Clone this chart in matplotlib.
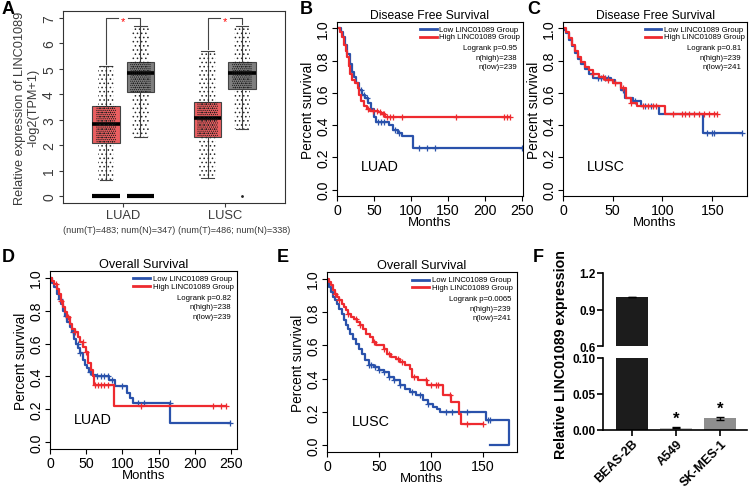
import numpy as np
import matplotlib
matplotlib.use('Agg')
import matplotlib.pyplot as plt
from matplotlib.lines import Line2D
from matplotlib.patches import Rectangle

plt.rcParams['font.family'] = ['Liberation Sans', 'DejaVu Sans']
plt.rcParams['hatch.linewidth'] = 0.6

# ---------------- data ----------------
# panel A: LINC01089 expression, tumor (T) vs normal (N)
cancers = ['LUAD', 'LUSC']
sample_sizes = ['(num(T)=483; num(N)=347)', '(num(T)=486; num(N)=338)']
# q1, median, q3, whisker low, whisker high
tumor_stats = [[2.10, 2.82, 3.52, 0.62, 5.10], [2.32, 3.05, 3.68, 0.70, 5.68]]
normal_stats = [[4.10, 4.82, 5.28, 2.32, 6.68], [4.20, 4.82, 5.28, 2.62, 6.70]]
zero_cluster_tumor = [True, False]
zero_cluster_normal = [True, False]

# panel B: LUAD disease free survival
b_low_t = [0, 5, 8, 11, 14, 17, 20, 23, 26, 30, 34, 38, 42, 46, 50, 53, 70, 76, 82, 88, 103]
b_low_s = [1.0, 0.98, 0.95, 0.9, 0.84, 0.78, 0.73, 0.7, 0.66, 0.62, 0.59, 0.57, 0.54, 0.5, 0.45, 0.42, 0.4, 0.37, 0.35, 0.33, 0.26]
b_low_cens = [33, 36, 40, 56, 60, 64, 78, 84, 110, 122, 132, 250]
b_high_t = [0, 4, 7, 10, 12, 14, 16, 18, 20, 24, 28, 30, 33, 36, 40, 45, 55, 60, 65]
b_high_s = [1.0, 0.98, 0.95, 0.9, 0.86, 0.82, 0.77, 0.72, 0.68, 0.66, 0.63, 0.59, 0.55, 0.52, 0.5, 0.49, 0.48, 0.47, 0.45]
b_high_cens = [42, 48, 54, 58, 62, 64, 68, 72, 75, 88, 160, 225, 230, 234]
b_stats = ['Logrank p=0.95', 'n(high)=238', 'n(low)=239']

# panel C: LUSC disease free survival
c_low_t = [0, 3, 6, 9, 12, 15, 18, 22, 26, 30, 40, 48, 52, 58, 62, 70, 78, 97, 141]
c_low_s = [0.99, 0.97, 0.93, 0.89, 0.85, 0.81, 0.78, 0.75, 0.72, 0.69, 0.69, 0.68, 0.66, 0.62, 0.57, 0.55, 0.52, 0.47, 0.35]
c_low_cens = [35, 38, 42, 45, 60, 72, 82, 88, 145, 150, 152, 180]
c_high_t = [0, 3, 6, 9, 12, 15, 18, 22, 26, 30, 36, 42, 50, 58, 63, 68, 74, 103]
c_high_s = [1.0, 0.98, 0.94, 0.9, 0.86, 0.82, 0.79, 0.76, 0.74, 0.72, 0.7, 0.68, 0.66, 0.63, 0.57, 0.54, 0.52, 0.47]
c_high_cens = [30, 40, 45, 52, 60, 68, 80, 85, 90, 94, 111, 120, 123, 127, 132, 137, 142, 147, 152, 155]
c_stats = ['Logrank p=0.81', 'n(high)=239', 'n(low)=241']

# panel D: LUAD overall survival
d_low_t = [0, 3, 6, 9, 12, 15, 18, 21, 24, 27, 30, 33, 36, 39, 42, 45, 48, 51, 54, 58, 64, 82, 89, 106, 110, 114, 166]
d_low_s = [1.0, 0.97, 0.94, 0.9, 0.87, 0.84, 0.8, 0.77, 0.73, 0.7, 0.67, 0.63, 0.6, 0.57, 0.54, 0.5, 0.47, 0.45, 0.43, 0.41, 0.4, 0.38, 0.34, 0.3, 0.27, 0.24, 0.12]
d_low_cens = [14, 22, 32, 38, 42, 55, 65, 70, 75, 80, 85, 100, 122, 130, 165, 248]
d_high_t = [0, 3, 6, 9, 12, 15, 18, 21, 24, 27, 30, 34, 38, 42, 46, 50, 53, 56, 59, 61, 88]
d_high_s = [1.0, 0.98, 0.96, 0.93, 0.9, 0.86, 0.82, 0.79, 0.76, 0.72, 0.69, 0.67, 0.64, 0.61, 0.58, 0.55, 0.48, 0.44, 0.4, 0.35, 0.22]
d_high_cens = [8, 15, 25, 35, 45, 50, 62, 66, 70, 75, 80, 125, 225, 236, 243]
d_stats = ['Logrank p=0.82', 'n(high)=238', 'n(low)=239']

# panel E: LUSC overall survival
e_low_t = [0, 2, 4, 6, 8, 10, 12, 14, 16, 18, 20, 22, 25, 28, 31, 34, 37, 40, 45, 50, 55, 60, 65, 70, 75, 80, 86, 92, 97, 102, 106, 109, 153, 175]
e_low_s = [0.98, 0.95, 0.92, 0.89, 0.87, 0.85, 0.82, 0.79, 0.75, 0.72, 0.7, 0.67, 0.64, 0.61, 0.58, 0.55, 0.51, 0.48, 0.47, 0.45, 0.44, 0.41, 0.39, 0.36, 0.34, 0.32, 0.3, 0.27, 0.25, 0.23, 0.22, 0.2, 0.15, 0.0]
e_low_cens = [40, 42, 46, 50, 55, 60, 65, 70, 82, 90, 97, 115, 120, 135, 155, 157]
e_high_t = [0, 2, 4, 6, 8, 10, 12, 14, 16, 18, 20, 23, 26, 29, 32, 35, 38, 41, 44, 47, 55, 58, 62, 66, 70, 75, 80, 82, 88, 96, 112, 119, 127, 129]
e_high_s = [1.0, 0.98, 0.96, 0.93, 0.91, 0.89, 0.87, 0.85, 0.83, 0.81, 0.79, 0.77, 0.76, 0.74, 0.72, 0.7, 0.67, 0.65, 0.62, 0.6, 0.58, 0.55, 0.53, 0.52, 0.5, 0.48, 0.46, 0.41, 0.39, 0.36, 0.3, 0.26, 0.19, 0.13]
e_high_cens = [8, 12, 20, 28, 32, 45, 55, 60, 68, 72, 84, 95, 100, 105, 107, 118, 135, 150]
e_stats = ['Logrank p=0.0065', 'n(high)=239', 'n(low)=241']

# panel F: qPCR
cell_lines = ['BEAS-2B', 'A549', 'SK-MES-1']
rel_expr = [1.0, 0.003, 0.016]
rel_err = [0.0, 0.0008, 0.0015]
bar_colors = ['#1c1c1c', '#c4c4c4', '#8e8e8e']
significant = [False, True, True]

BLUE = '#2a52ab'
RED = '#ee2a2f'

fig = plt.figure(figsize=(7.53, 4.89), dpi=100)


def fpos(left, top, right, bottom):
    W, H = 753.0, 489.0
    return [left / W, 1 - bottom / H, (right - left) / W, (bottom - top) / H]


def panel_label(x, y, s):
    fig.text(x / 753.0, 1 - y / 489.0, s, fontsize=13, fontweight='bold',
             ha='left', va='top')


# ---------------- panel A ----------------
axA = fig.add_axes(fpos(63, 12, 285, 204))
off = 0.17
bw = 0.27
txt_grey = '#3a3a3a'
for i in range(len(cancers)):
    for st, dx, col, zc in [(tumor_stats[i], -off, '#ea5f61', zero_cluster_tumor[i]),
                            (normal_stats[i], off, '#7f7f7f', zero_cluster_normal[i])]:
        q1, med, q3, lo, hi = st
        pos = i + 1 + dx
        axA.bxp([dict(q1=q1, med=med, q3=q3, whislo=lo, whishi=hi, fliers=[])],
                positions=[pos], widths=bw, patch_artist=True, showfliers=False,
                boxprops=dict(facecolor=col, edgecolor='#444444', linewidth=0.8),
                medianprops=dict(color='black', linewidth=2.6),
                whiskerprops=dict(color='#444444', linewidth=0.8),
                capprops=dict(color='#444444', linewidth=0.8), capwidths=0.12)
        # jittered sample cloud drawn as a stipple texture
        axA.add_patch(Rectangle((pos - 0.08, lo), 0.16, hi - lo, facecolor='none',
                                edgecolor='#2a2a2a', linewidth=0, hatch='....', zorder=4))
        axA.add_patch(Rectangle((pos - 0.1, q1), 0.2, q3 - q1, facecolor='none',
                                edgecolor='#1a1a1a', linewidth=0, hatch='........', zorder=4))
        if zc:
            axA.hlines(0, pos - bw / 2, pos + bw / 2, color='black', linewidth=3, zorder=5)
    # significance bracket
    lft = i + 1 - off
    rgt = i + 1 + off
    top = 7.0
    axA.plot([lft, lft, i + 1 - 0.05], [tumor_stats[i][4] + 0.1, top, top], color='#444444', lw=0.8)
    axA.plot([i + 1 + 0.05, rgt, rgt], [top, top, normal_stats[i][4] + 0.05], color='#444444', lw=0.8)
    axA.text(i + 1, top - 0.12, '*', color='red', fontsize=8, ha='center', va='center')
axA.scatter([2 + off], [0], s=1, color='#222222')
axA.set_xlim(0.41, 2.59)
axA.set_ylim(-0.27, 7.27)
axA.set_yticks(range(8))
axA.set_yticklabels([str(v) for v in range(8)], rotation=90, va='center', fontsize=10, color=txt_grey)
axA.set_xticks([1, 2])
axA.set_xticklabels(['', ''])
size_label_x = [0.41, 1.537]
for i in range(len(cancers)):
    axA.text(i + 1, -0.5, cancers[i], ha='center', va='top', fontsize=9.3, color=txt_grey)
    axA.text(size_label_x[i], -1.15, sample_sizes[i], ha='left', va='top', fontsize=6.6,
             color=txt_grey, clip_on=False)
axA.set_ylabel('Relative expression of LINC01089\n-log2(TPM+1)', fontsize=9.2, color=txt_grey,
               linespacing=1.1, labelpad=2)
axA.tick_params(length=3, width=0.8, pad=2, colors=txt_grey)
for s in axA.spines.values():
    s.set_linewidth(0.8)
    s.set_color('#333333')


# ---------------- KM panels ----------------
def km_panel(rect, title, low_t, low_s, low_c, high_t, high_s, high_c, stats, tag,
             xmax, xticks, fs_title=8.7):
    ax = fig.add_axes(rect)
    for t, s, c, col in [(low_t, low_s, low_c, BLUE), (high_t, high_s, high_c, RED)]:
        tt = list(t) + [max(c)]
        ss = list(s) + [s[-1]]
        ax.step(tt, ss, where='post', color=col, linewidth=1.6)
        idx = np.searchsorted(t, c, side='right') - 1
        ax.plot(c, np.array(s)[idx], linestyle='none', marker='+', color=col,
                markersize=5, markeredgewidth=0.9)
    ax.set_xlim(0, xmax)
    ax.set_ylim(-0.04, 1.04)
    ax.set_xticks(xticks)
    ax.set_yticks([0, 0.2, 0.4, 0.6, 0.8, 1.0])
    ax.set_yticklabels(['0.0', '0.2', '0.4', '0.6', '0.8', '1.0'], rotation=90, va='center')
    ax.tick_params(labelsize=10.2, length=3.5, width=0.8, pad=1.5)
    ax.set_xlabel('Months', fontsize=9.5, labelpad=-1)
    ax.set_ylabel('Percent survival', fontsize=9.8, labelpad=1)
    ax.set_title(title, fontsize=fs_title, pad=3)
    # legend
    for k, (col, lab) in enumerate([(BLUE, 'Low LINC01089 Group'), (RED, 'High LINC01089 Group')]):
        yy = 0.958 - 0.043 * k
        ax.add_line(Line2D([0.445, 0.535], [yy, yy], color=col, lw=2, transform=ax.transAxes))
        ax.text(0.55, yy, lab, transform=ax.transAxes, ha='left', va='center', fontsize=5.6)
    for k, line in enumerate(stats):
        ax.text(0.968, 0.851 - 0.053 * k, line, transform=ax.transAxes, ha='right',
                va='center', fontsize=5.6)
    ax.text(0.13, 0.17, tag, transform=ax.transAxes, fontsize=10.3, va='center')
    for s in ax.spines.values():
        s.set_linewidth(0.8)
    return ax


km_panel(fpos(337, 23, 523, 197), 'Disease Free Survival', b_low_t, b_low_s, b_low_cens,
         b_high_t, b_high_s, b_high_cens, b_stats, 'LUAD', 251, [0, 50, 100, 150, 200, 250])
km_panel(fpos(563, 23, 747, 197), 'Disease Free Survival', c_low_t, c_low_s, c_low_cens,
         c_high_t, c_high_s, c_high_cens, c_stats, 'LUSC', 185, [0, 50, 100, 150])
km_panel(fpos(50, 272, 237, 450), 'Overall Survival', d_low_t, d_low_s, d_low_cens,
         d_high_t, d_high_s, d_high_cens, d_stats, 'LUAD', 258, [0, 50, 100, 150, 200, 250],
         fs_title=9.2)
km_panel(fpos(327, 273, 517, 453), 'Overall Survival', e_low_t, e_low_s, e_low_cens,
         e_high_t, e_high_s, e_high_cens, e_stats, 'LUSC', 183, [0, 50, 100, 150],
         fs_title=9.2)

# ---------------- panel F (broken axis) ----------------
axF1 = fig.add_axes(fpos(603, 274, 747, 347))
axF2 = fig.add_axes(fpos(603, 359, 747, 431))
x = np.arange(len(cell_lines))
for ax in (axF1, axF2):
    ax.bar(x, rel_expr, width=0.73, color=bar_colors, edgecolor='none')
    ax.errorbar(x, rel_expr, yerr=rel_err, fmt='none', ecolor='black', elinewidth=1, capsize=3)
    ax.set_xlim(-0.66, 2.61)
    for s in ['top', 'right']:
        ax.spines[s].set_visible(False)
    ax.spines['left'].set_linewidth(1.2)
    ax.spines['bottom'].set_linewidth(1.2)
    ax.tick_params(width=1.2, length=4, labelsize=8.5, pad=1)
axF1.set_ylim(0.6, 1.2)
axF1.set_yticks([0.6, 0.9, 1.2])
axF1.set_yticklabels(['0.6', '0.9', '1.2'], fontweight='bold')
axF1.spines['bottom'].set_visible(False)
axF1.set_xticks([])
axF2.set_ylim(0, 0.10)
axF2.set_yticks([0, 0.05, 0.10])
axF2.set_yticklabels(['0.00', '0.05', '0.10'], fontweight='bold')
axF2.set_xticks(x)
axF2.set_xticklabels(cell_lines, rotation=45, ha='right', rotation_mode='anchor',
                     fontweight='bold', fontsize=9)
for i in range(len(cell_lines)):
    if significant[i]:
        axF2.text(x[i], rel_expr[i] + rel_err[i] + 0.002, '*', ha='center', va='bottom',
                  fontsize=12, fontweight='bold')
fig.text(561 / 753.0, 1 - 355 / 489.0, 'Relative LINC01089 expression', rotation=90,
         ha='center', va='center', fontsize=10.2, fontweight='bold')

# panel letters
panel_label(2, 1, 'A')
panel_label(300, 1, 'B')
panel_label(527, 1, 'C')
panel_label(2, 249, 'D')
panel_label(277, 249, 'E')
panel_label(533, 249, 'F')

fig.savefig('out.png', dpi=100)
